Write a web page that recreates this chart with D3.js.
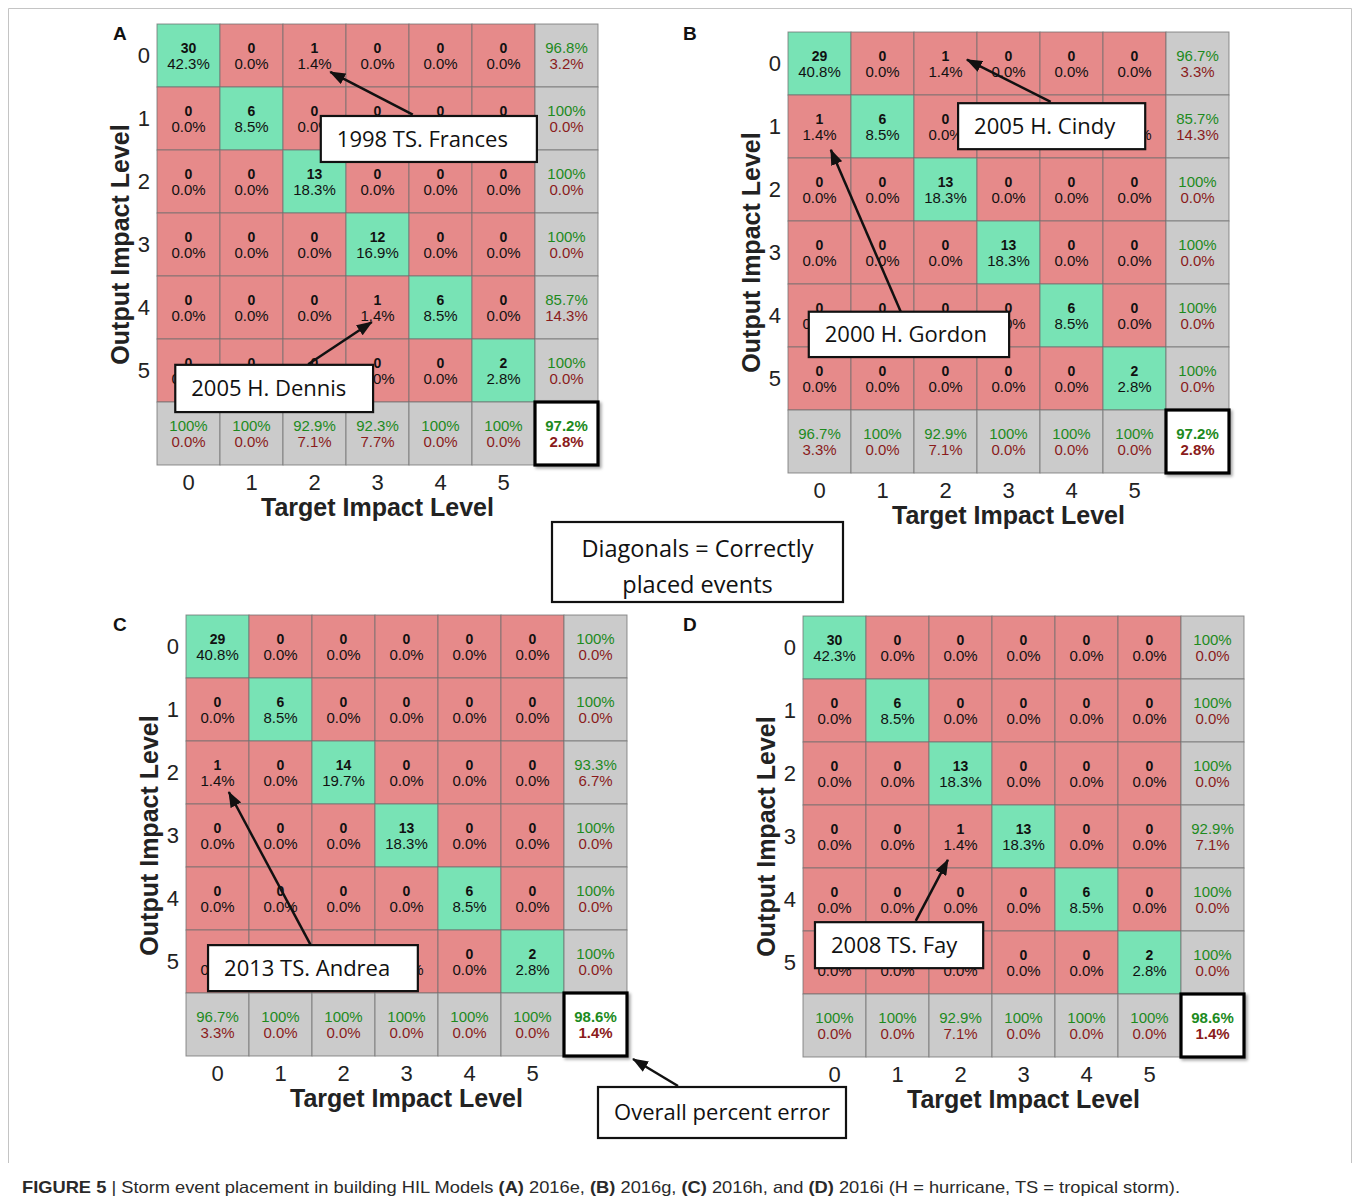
<!DOCTYPE html>
<html><head><meta charset="utf-8">
<script src="https://cdn.jsdelivr.net/npm/d3@7"></script>
<style>
body{margin:0;background:#fff}
svg{display:block}
</style>
</head><body>
<svg id="chart" width="1356" height="1203"></svg>
<script>
// ---------------- DATA ----------------
const categories = ["0","1","2","3","4","5"];
const panelLabels = ["A","B","C","D"];
const xAxisTitle = "Target Impact Level";
const yAxisTitle = "Output Impact Level";

// confusion matrices: rows = output level, cols = target level
const countsA = [
  [30,0,1,0,0,0],
  [0,6,0,0,0,0],
  [0,0,13,0,0,0],
  [0,0,0,12,0,0],
  [0,0,0,1,6,0],
  [0,0,0,0,0,2]
];
const countsB = [
  [29,0,1,0,0,0],
  [1,6,0,0,0,0],
  [0,0,13,0,0,0],
  [0,0,0,13,0,0],
  [0,0,0,0,6,0],
  [0,0,0,0,0,2]
];
const countsC = [
  [29,0,0,0,0,0],
  [0,6,0,0,0,0],
  [1,0,14,0,0,0],
  [0,0,0,13,0,0],
  [0,0,0,0,6,0],
  [0,0,0,0,0,2]
];
const countsD = [
  [30,0,0,0,0,0],
  [0,6,0,0,0,0],
  [0,0,13,0,0,0],
  [0,0,1,13,0,0],
  [0,0,0,0,6,0],
  [0,0,0,0,0,2]
];

// row summaries (right column)
const rowCorrectA = [96.8,100,100,100,85.7,100];
const rowErrorA   = [3.2,0,0,0,14.3,0];
const rowCorrectB = [96.7,85.7,100,100,100,100];
const rowErrorB   = [3.3,14.3,0,0,0,0];
const rowCorrectC = [100,100,93.3,100,100,100];
const rowErrorC   = [0,0,6.7,0,0,0];
const rowCorrectD = [100,100,100,92.9,100,100];
const rowErrorD   = [0,0,0,7.1,0,0];

// column summaries (bottom row)
const colCorrectA = [100,100,92.9,92.3,100,100];
const colErrorA   = [0,0,7.1,7.7,0,0];
const colCorrectB = [96.7,100,92.9,100,100,100];
const colErrorB   = [3.3,0,7.1,0,0,0];
const colCorrectC = [96.7,100,100,100,100,100];
const colErrorC   = [3.3,0,0,0,0,0];
const colCorrectD = [100,100,92.9,100,100,100];
const colErrorD   = [0,0,7.1,0,0,0];

// overall [correct, error]
const totalA = [97.2,2.8];
const totalB = [97.2,2.8];
const totalC = [98.6,1.4];
const totalD = [98.6,1.4];

// annotation texts
const annotationTexts = ["1998 TS. Frances","2005 H. Dennis","2005 H. Cindy","2000 H. Gordon","2013 TS. Andrea","2008 TS. Fay"];
const noteDiagonal = ["Diagonals = Correctly","placed events"];
const noteOverall = "Overall percent error";
const captionParts = [
  ["FIGURE 5",true],[" | Storm event placement in building HIL Models ",false],
  ["(A)",true],[" 2016e, ",false],["(B)",true],[" 2016g, ",false],
  ["(C)",true],[" 2016h, and ",false],["(D)",true],
  [" 2016i (H = hurricane, TS = tropical storm).",false]
];

// ---------------- LAYOUT / STYLE ----------------
const CELL = 63;
const FONT = "'Liberation Sans', Arial, Helvetica, sans-serif";
const NOTEFONT = "'Open Sans', 'Noto Sans', sans-serif";
const C_GREEN = "#78e3b5", C_RED = "#e68a8a", C_GRAY = "#cbcbcb";
const T_GREEN = "#1d8a1d", T_RED = "#8a1b1b";

const panels = [
  {label:"A", counts:countsA, rc:rowCorrectA, re:rowErrorA, cc:colCorrectA, ce:colErrorA, tot:totalA, left:157, top:24,
   notes:[{t:0, box:[2.6,1.46,6.03,2.19], head:[2.75,0.76], tail:[4.06,1.44]},
          {t:1, box:[0.29,5.41,3.43,6.16], head:[3.41,4.73], tail:[2.40,5.40]}]},
  {label:"B", counts:countsB, rc:rowCorrectB, re:rowErrorB, cc:colCorrectB, ce:colErrorB, tot:totalB, left:788, top:32,
   notes:[{t:2, box:[2.70,1.13,5.67,1.86], head:[2.84,0.44], tail:[4.17,1.11]},
          {t:3, box:[0.33,4.44,3.51,5.16], head:[0.68,1.87], tail:[1.79,4.44]}]},
  {label:"C", counts:countsC, rc:rowCorrectC, re:rowErrorC, cc:colCorrectC, ce:colErrorC, tot:totalC, left:186, top:615,
   notes:[{t:4, box:[0.35,5.24,3.68,5.97], head:[0.68,2.81], tail:[1.98,5.24]}]},
  {label:"D", counts:countsD, rc:rowCorrectD, re:rowErrorD, cc:colCorrectD, ce:colErrorD, tot:totalD, left:803, top:616,
   notes:[{t:5, box:[0.19,4.86,2.86,5.59], head:[2.30,3.87], tail:[1.79,4.84]}]}
];

const fmt = v => v === 100 ? "100%" : v.toFixed(1) + "%";

const svg = d3.select("#chart");
const defs = svg.append("defs");
defs.append("marker").attr("id","arrow").attr("markerUnits","userSpaceOnUse")
  .attr("markerWidth",16).attr("markerHeight",12).attr("refX",15).attr("refY",6).attr("orient","auto")
  .append("path").attr("d","M0,0 L16,6 L0,12 Z").attr("fill","#111");
const sh = defs.append("filter").attr("id","shadow").attr("x","-20%").attr("y","-20%").attr("width","150%").attr("height","150%");
sh.append("feDropShadow").attr("dx",2).attr("dy",2).attr("stdDeviation",1.5).attr("flood-color","#000").attr("flood-opacity",0.35);

// frame
svg.append("path").attr("d","M8.5,1163 L8.5,8.5 L1351.5,8.5 L1351.5,1163")
  .attr("fill","none").attr("stroke","#c4c4c4").attr("stroke-width",1);

const noteLayer = [];

panels.forEach(p => {
  const g = svg.append("g");
  const keys = [...categories, "sum"];
  const x = d3.scaleBand().domain(keys).range([p.left, p.left + 7*CELL]);
  const y = d3.scaleBand().domain(keys).range([p.top, p.top + 7*CELL]);
  const total = d3.sum(p.counts.flat());

  const cells = [];
  p.counts.forEach((row, i) => row.forEach((v, j) => cells.push({r:categories[i], c:categories[j], type: i===j ? "diag" : "off", v})));
  categories.forEach((k, i) => cells.push({r:k, c:"sum", type:"sum", a:p.rc[i], b:p.re[i]}));
  categories.forEach((k, j) => cells.push({r:"sum", c:k, type:"sum", a:p.cc[j], b:p.ce[j]}));

  g.selectAll("rect.cell").data(cells).join("rect").attr("class","cell")
    .attr("x", d => x(d.c)).attr("y", d => y(d.r))
    .attr("width", x.bandwidth()).attr("height", y.bandwidth())
    .attr("fill", d => d.type==="diag" ? C_GREEN : d.type==="off" ? C_RED : C_GRAY)
    .attr("stroke", "#6f6f6f").attr("stroke-opacity",0.75).attr("stroke-width",1);

  // total cell
  g.append("rect").attr("x", x("sum")).attr("y", y("sum"))
    .attr("width", x.bandwidth()).attr("height", y.bandwidth())
    .attr("fill","#fff").attr("stroke","#000").attr("stroke-width",3.2).attr("filter","url(#shadow)");

  const tg = g.append("g").attr("font-family", FONT).attr("text-anchor","middle");
  cells.forEach(d => {
    const cx = x(d.c) + x.bandwidth()/2, ty = y(d.r);
    if (d.type === "sum") {
      tg.append("text").attr("x",cx).attr("y",ty+28.5).attr("font-size",15).attr("fill",T_GREEN).text(fmt(d.a));
      tg.append("text").attr("x",cx).attr("y",ty+44.5).attr("font-size",15).attr("fill",T_RED).text(fmt(d.b));
    } else {
      tg.append("text").attr("x",cx).attr("y",ty+28.5).attr("font-size",14).attr("font-weight","bold").attr("fill","#111").text(d.v);
      tg.append("text").attr("x",cx).attr("y",ty+44.5).attr("font-size",15).attr("fill","#111").text((d.v/total*100).toFixed(1)+"%");
    }
  });
  const tcx = x("sum") + x.bandwidth()/2, tty = y("sum");
  tg.append("text").attr("x",tcx).attr("y",tty+28.5).attr("font-size",15).attr("font-weight","bold").attr("fill",T_GREEN).text(fmt(p.tot[0]));
  tg.append("text").attr("x",tcx).attr("y",tty+44.5).attr("font-size",15).attr("font-weight","bold").attr("fill",T_RED).text(fmt(p.tot[1]));

  // axes
  const xa = g.append("g").attr("transform",`translate(0,${p.top + 7*CELL})`)
    .call(d3.axisBottom(x).tickValues(categories).tickSize(0).tickPadding(9));
  const ya = g.append("g").attr("transform",`translate(${p.left},0)`)
    .call(d3.axisLeft(y).tickValues(categories).tickSize(0).tickPadding(7));
  [xa, ya].forEach(a => {
    a.select(".domain").remove();
    a.selectAll("text").attr("font-family",FONT).attr("font-size",22).attr("fill","#222");
  });

  g.append("text").attr("x", p.left + 3.5*CELL).attr("y", p.top + 7*CELL + 42).attr("dy","0.35em")
    .attr("text-anchor","middle").attr("font-family",FONT).attr("font-weight","bold").attr("font-size",25).attr("fill","#222")
    .text(xAxisTitle);
  g.append("text").attr("transform",`translate(${p.left-37},${p.top + 3.5*CELL}) rotate(-90)`).attr("dy","0.35em")
    .attr("text-anchor","middle").attr("font-family",FONT).attr("font-weight","bold").attr("font-size",25).attr("fill","#222")
    .text(yAxisTitle);

  // panel letter
  g.append("text").attr("x", p.label==="A"||p.label==="C" ? 113 : 683).attr("y", p.top + (p.label==="B"?8:16) - (p.label==="D"?1:0))
    .attr("font-family",FONT).attr("font-weight","bold").attr("font-size",19).attr("fill","#111").text(p.label);

  const gx = d3.scaleLinear().domain([0,7]).range([p.left, p.left + 7*CELL]);
  const gy = d3.scaleLinear().domain([0,7]).range([p.top, p.top + 7*CELL]);
  p.notes.forEach(n => noteLayer.push({
    text: annotationTexts[n.t],
    x0: gx(n.box[0]), y0: gy(n.box[1]), x1: gx(n.box[2]), y1: gy(n.box[3]),
    hx: gx(n.head[0]), hy: gy(n.head[1]), tx: gx(n.tail[0]), ty: gy(n.tail[1])
  }));
});

// annotations
const ng = svg.append("g");
noteLayer.forEach(n => {
  ng.append("line").attr("x1",n.tx).attr("y1",n.ty).attr("x2",n.hx).attr("y2",n.hy)
    .attr("stroke","#111").attr("stroke-width",2.5).attr("marker-end","url(#arrow)");
  ng.append("rect").attr("x",n.x0).attr("y",n.y0).attr("width",n.x1-n.x0).attr("height",n.y1-n.y0)
    .attr("fill","#fff").attr("stroke","#111").attr("stroke-width",2.2);
  ng.append("text").attr("x",n.x0+16).attr("y",(n.y0+n.y1)/2).attr("dy","0.36em")
    .attr("font-family",NOTEFONT).attr("font-size",22).attr("fill","#111").text(n.text);
});

// diagonal note
ng.append("rect").attr("x",552).attr("y",522).attr("width",291).attr("height",80)
  .attr("fill","#fff").attr("stroke","#111").attr("stroke-width",2.2);
noteDiagonal.forEach((t,i) => ng.append("text").attr("x",697.5).attr("y",549 + i*36).attr("dy","0.36em")
  .attr("text-anchor","middle").attr("font-family",NOTEFONT).attr("font-size",23.5).attr("fill","#111").text(t));

// overall note
ng.append("line").attr("x1",678).attr("y1",1086).attr("x2",633).attr("y2",1059)
  .attr("stroke","#111").attr("stroke-width",2.5).attr("marker-end","url(#arrow)");
ng.append("rect").attr("x",598).attr("y",1087).attr("width",248).attr("height",51)
  .attr("fill","#fff").attr("stroke","#111").attr("stroke-width",2.2);
ng.append("text").attr("x",722).attr("y",1112).attr("dy","0.36em").attr("text-anchor","middle")
  .attr("font-family",NOTEFONT).attr("font-size",22).attr("fill","#111").text(noteOverall);

// caption
const cap = svg.append("text").attr("x",22).attr("y",1193).attr("font-family",FONT).attr("font-size",16.5).attr("fill","#2a2a2a")
  .attr("textLength",1158).attr("lengthAdjust","spacingAndGlyphs");
captionParts.forEach(([t,b]) => cap.append("tspan").attr("font-weight", b ? "bold" : "normal").text(t));
</script>
</body></html>
